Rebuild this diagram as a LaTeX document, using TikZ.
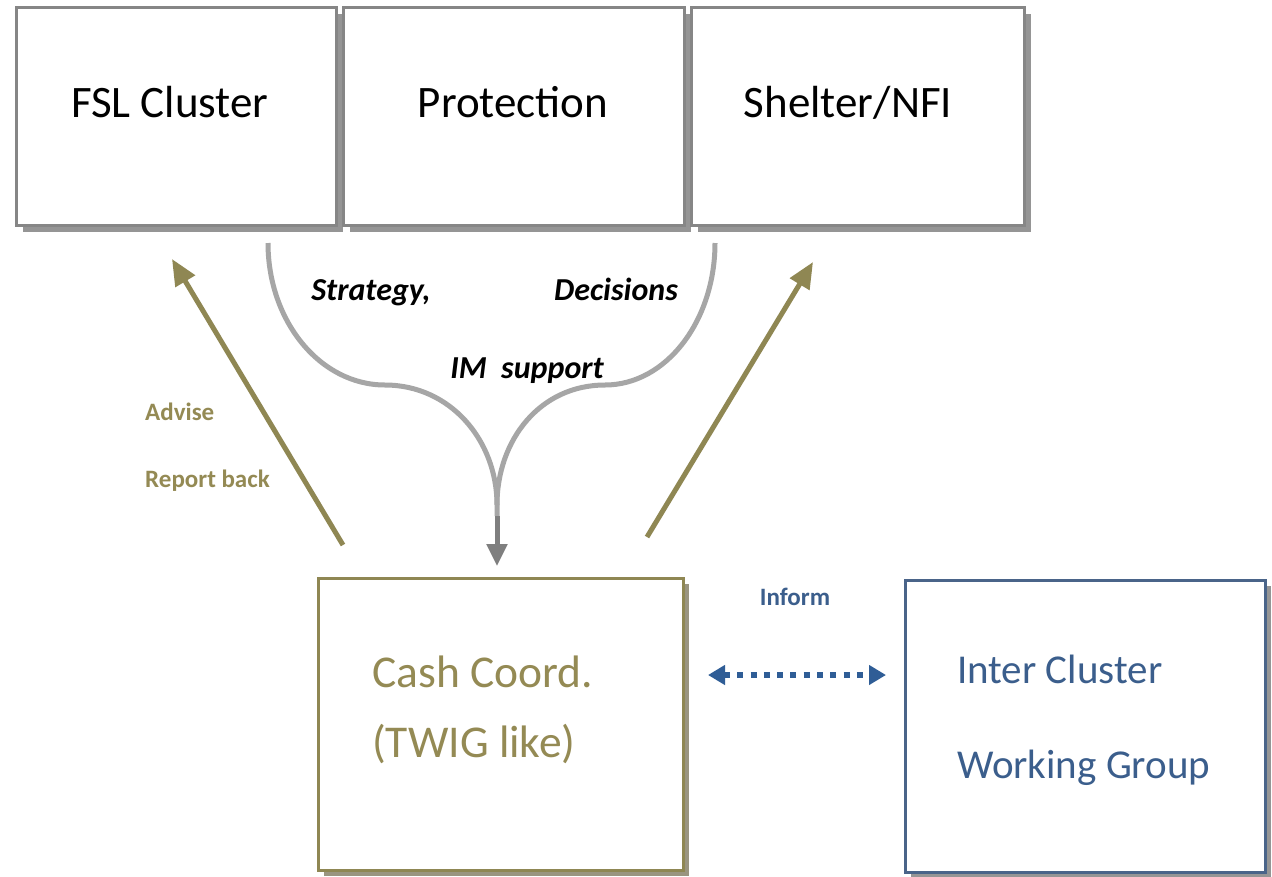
\documentclass[tikz,border=0pt]{standalone}
\usepackage{fontspec}
\setmainfont{Carlito}
\usetikzlibrary{arrows.meta,shadows}
\definecolor{boxgrey}{HTML}{868686}
\definecolor{shadowgrey}{HTML}{959595}
\definecolor{olive}{HTML}{8F8753}
\definecolor{olivetext}{HTML}{948A54}
\definecolor{oliveshadow}{HTML}{9A9580}
\definecolor{bluebox}{HTML}{4A6489}
\definecolor{bluetext}{HTML}{3B5E8C}
\definecolor{bluearrow}{HTML}{2F5D96}
\definecolor{curvegrey}{HTML}{A6A6A6}
\definecolor{stemgrey}{HTML}{7F7F7F}
\tikzset{
  topbox/.style={draw=boxgrey, line width=3pt, fill=white, inner sep=0pt,
    drop shadow={shadow xshift=7pt, shadow yshift=-7pt, fill=shadowgrey, opacity=1}},
  cashbox/.style={draw=olive, line width=3pt, fill=white, inner sep=0pt,
    drop shadow={shadow xshift=6pt, shadow yshift=-6pt, fill=oliveshadow, opacity=1}},
  icbox/.style={draw=bluebox, line width=3pt, fill=white, inner sep=0pt,
    drop shadow={shadow xshift=6pt, shadow yshift=-6pt, fill=shadowgrey, opacity=1}},
  toptext/.style={font=\fontsize{45pt}{54pt}\selectfont, text=black, inner sep=0pt, anchor=base},
  flowtext/.style={font=\fontsize{32pt}{38pt}\selectfont\bfseries\itshape, text=black, inner sep=0pt, anchor=base},
  olivelabel/.style={font=\fontsize{25pt}{30pt}\selectfont\bfseries, text=olivetext, inner sep=0pt, anchor=base west},
  cashtext/.style={font=\fontsize{45.5pt}{54pt}\selectfont, text=olivetext, inner sep=0pt, anchor=base west},
  ictext/.style={font=\fontsize{41pt}{49pt}\selectfont, text=bluetext, inner sep=0pt, anchor=base west},
  informtext/.style={font=\fontsize{25pt}{30pt}\selectfont\bfseries, text=bluetext, inner sep=0pt, anchor=base},
  olivearrow/.style={draw=olive, line width=5pt, -{Triangle[length=26pt,width=22pt]}},
  curve/.style={draw=curvegrey, line width=5pt},
  stemarrow/.style={draw=stemgrey, line width=5pt, -{Triangle[length=22pt,width=20pt]}},
  informarrow/.style={draw=bluearrow, line width=6pt, dash pattern=on 6pt off 7.3pt,
    {Triangle[length=17pt,width=19pt]}-{Triangle[length=17pt,width=19pt]}},
}
\begin{document}
\begin{tikzpicture}[x=1pt,y=-1pt]
\useasboundingbox[fill=white] (0,0) rectangle (1272,876);

% top boxes
\node[topbox, minimum width=320pt, minimum height=218pt] (fsl) at (176,116) {};
\node[topbox, minimum width=341pt, minimum height=218pt] (prot) at (513.5,116) {};
\node[topbox, minimum width=333pt, minimum height=218pt] (shel) at (857.5,116) {};
\node[toptext] (fsltxt) at (170,117) {FSL Cluster};
\node[toptext] (prottxt) at (513,117) {Protection};
\node[toptext] (sheltxt) at (848,117) {Shelter/NFI};

% bottom boxes
\node[cashbox, minimum width=365pt, minimum height=292pt] (cash) at (500.5,724) {};
\node[cashtext] (cash1) at (372,687) {Cash Coord.};
\node[cashtext] (cash2) at (372,757) {(TWIG like)};

\node[icbox, minimum width=360pt, minimum height=292pt] (ic) at (1085,726) {};
\node[ictext] (ic1) at (957,683) {Inter Cluster};
\node[ictext] (ic2) at (957,778) {Working Group};

% grey merging curves
\coordinate (sL) at (268,243);
\coordinate (sR) at (715,243);
\coordinate (mL) at (385,385);
\coordinate (mR) at (605,385);
\coordinate (join) at (497,505);
\coordinate (stem) at (497,516);
\coordinate (tip) at (497,566);
\draw[curve] (sL) .. controls (268,321) and (320,385) .. (mL)
  .. controls (450,385) and (497,440) .. (join) -- (stem);
\draw[curve] (sR) .. controls (715,321) and (666,385) .. (mR)
  .. controls (540,385) and (497,440) .. (join);
\draw[stemarrow] (stem) -- (tip);

\node[flowtext] (strat) at (371,300) {Strategy,};
\node[flowtext] (dec) at (616,300) {Decisions};
\node[flowtext] (im) at (527,378) {IM\ \ support};

% olive arrows
\coordinate (aL0) at (343,545);
\coordinate (aL1) at (172,259);
\coordinate (aR0) at (647,537);
\coordinate (aR1) at (813,262);
\draw[olivearrow] (aL0) -- (aL1);
\draw[olivearrow] (aR0) -- (aR1);
\node[olivelabel] (adv) at (145,420) {Advise};
\node[olivelabel] (rep) at (145,487) {Report back};

% inform arrow
\coordinate (iL) at (708,675);
\coordinate (iR) at (886,675);
\draw[informarrow] (iL) -- (iR);
\node[informtext] (inf) at (795,605) {Inform};
\end{tikzpicture}
\end{document}
